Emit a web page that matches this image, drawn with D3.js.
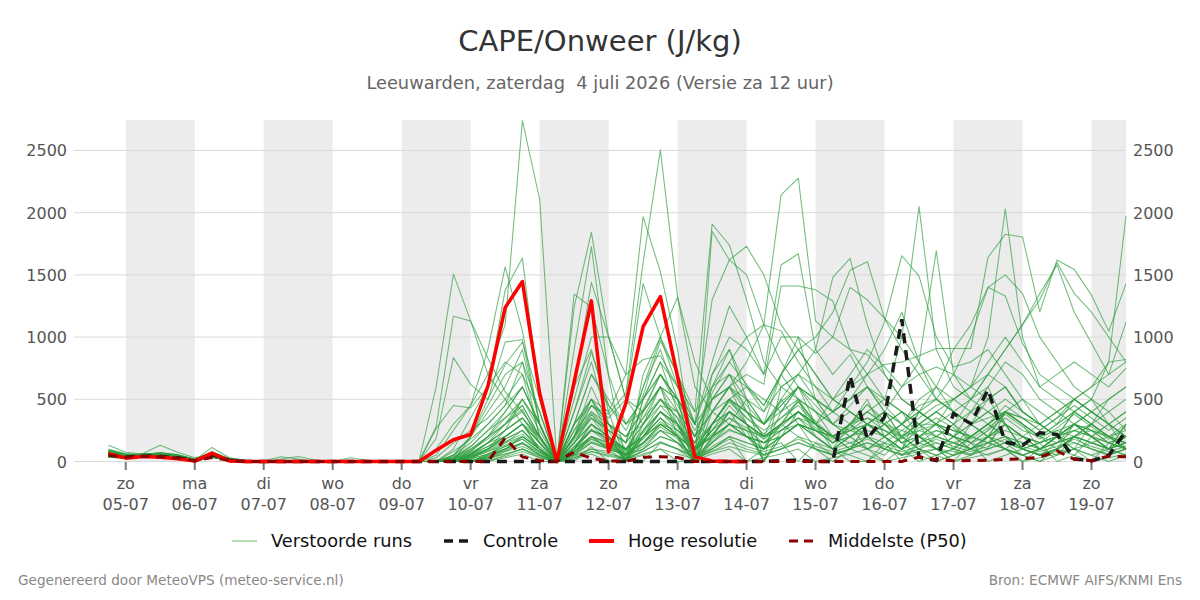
<!DOCTYPE html>
<html><head><meta charset="utf-8">
<script src="https://cdn.jsdelivr.net/npm/d3@7/dist/d3.min.js"></script>
<style>body{margin:0;background:#fff;font-family:"DejaVu Sans",sans-serif;}svg{display:block}</style>
</head><body><svg id="chart" width="1200" height="600"></svg>
<script>
// ---------- data ----------
const firstTimeUTC = [2026, 6, 4, 18]; // 04-07 18:00, 6-hourly steps
const stepHours = 6;
const dayNames = ["zo","ma","di","wo","do","vr","za","zo","ma","di","wo","do","vr","za","zo"];
const dayDates = ["05-07","06-07","07-07","08-07","09-07","10-07","11-07","12-07","13-07","14-07","15-07","16-07","17-07","18-07","19-07"];
const shadedDates = ["05-07","07-07","09-07","11-07","13-07","15-07","17-07","19-07"];
const yTickValues = [0, 500, 1000, 1500, 2000, 2500];

const hresValues = [62,27,40,35,22,3,67,5,0,0,0,0,0,0,0,0,0,0,
  0,90,175,217,606,1237,1447,549,0,640,1291,77,468,1084,1326,681,37,5,0,0];

const controlValues = [55,35,45,40,30,5,55,10,0,0,0,0,0,0,0,0,0,0,
  0,0,0,0,0,0,0,0,0,0,0,0,0,0,0,0,0,0,0,0,0,8,10,0,
  0,686,183,357,1143,35,8,384,304,578,156,129,231,218,22,5,48,248];

const p50Values = [50,35,42,38,28,6,32,8,0,0,0,0,0,0,0,0,0,0,
  0,0,0,0,0,188,37,8,0,75,25,5,0,35,38,32,0,0,0,0,0,0,0,0,
  0,0,0,0,0,36,15,6,8,10,17,22,34,86,17,6,44,38];

const ensembleMembers = [
 [70,45,55,60,45,10,60,15,0,0,5,10,0,0,0,0,0,0, 0,100,300,450,700,1100, 2740,2108,0,600,900,400, 0,500,800,400,100,600, 900,500,300,700,500,200, 100,300,500,200,100,400, 300,100,50,200,400,300, 100,50,200,150,100,300],
 [90,60,50,50,40,15,80,20,5,0,0,0,0,0,10,0,0,0, 0,600,1506,1130,700,500, 300,100,0,300,500,200, 0,400,600,200,0,300, 500,300,100,400,600,300, 200,100,50,0,100,200, 100,0,50,150,300,100, 50,100,300,200,100,150],
 [50,30,40,45,35,5,50,10,0,0,0,0,0,0,0,0,0,0, 0,280,1168,1130,830,560, 400,200,0,100,300,150, 50,200,400,300,0,200, 400,200,100,300,200,100, 0,100,300,400,200,100, 0,50,100,200,150,50, 0,100,200,100,50,100],
 [130,75,60,55,50,20,70,25,5,0,20,40,10,0,0,0,0,0, 0,50,250,450,900,1565, 1050,300,0,200,600,300, 100,300,500,350,0,500, 700,400,200,500,300,100, 50,100,200,100,50,150, 100,200,400,600,300,100, 50,150,300,250,150,200],
 [60,45,65,130,75,30,60,20,0,0,0,0,0,0,0,0,0,0, 0,0,100,350,600,1378, 1635,500,0,400,800,300, 150,600,900,500,200,400, 600,300,0,200,400,300, 100,200,300,200,50,100, 200,300,150,100,400,500, 300,200,100,300,400,250],
 [40,25,35,40,30,5,45,10,0,0,0,0,0,0,0,0,0,0, 0,0,50,200,400,600, 900,300,0,1345,1240,700, 300,500,700,500,0,300, 500,400,200,300,500,400, 200,300,100,50,200,300, 100,50,200,300,200,100, 50,100,50,200,300,100],
 [80,50,45,60,40,10,113,30,10,0,0,0,0,0,0,0,0,0, 0,30,150,250,350,500, 700,400,0,1240,1842,1000, 500,400,600,300,100,200, 400,300,0,200,300,200, 100,50,0,100,200,100, 50,100,200,150,100,50, 100,200,150,100,50,100],
 [65,40,50,55,35,8,55,12,0,0,10,0,0,0,0,0,0,0, 0,0,80,180,300,450, 800,200,0,900,1727,680, 0,700,1000,600,300,200, 300,200,50,100,200,150, 50,100,200,300,150,50, 0,50,100,200,100,50, 0,50,100,50,0,50],
 [100,65,55,70,55,20,65,25,8,5,38,20,0,0,0,0,0,0, 0,0,30,100,200,300, 400,200,0,300,500,400, 700,1968,1525,900,0,700, 900,600,400,700,1000,500, 300,200,100,200,300,200, 100,50,100,200,300,100, 50,100,200,300,200,100],
 [55,35,45,50,40,10,40,10,0,0,0,0,0,0,30,10,0,0, 0,0,20,80,200,400, 600,300,0,200,450,380, 550,1600,2505,1320,600,400, 300,500,0,600,500,300, 200,100,300,400,200,100, 50,100,300,200,100,0, 100,200,300,200,100,50],
 [75,50,40,45,30,8,70,15,0,0,0,0,0,0,0,0,0,0, 0,0,0,50,150,300, 500,300,0,200,400,300, 0,500,800,600,400,1909, 1740,1300,800,600,700,500, 300,400,300,200,100,200, 300,200,100,200,400,300, 200,100,200,300,200,100],
 [45,30,50,55,45,12,50,20,0,0,0,0,0,0,0,0,0,0, 0,0,40,120,250,350, 450,200,0,300,700,500, 300,400,600,500,0,1850, 1620,1500,1100,1050,800,600, 400,300,200,300,400,200, 100,200,300,200,100,50, 100,200,300,200,100,200],
 [85,55,60,65,50,15,55,18,0,0,0,0,0,0,0,0,0,0, 0,0,0,30,100,200, 300,150,0,100,300,200, 0,300,500,400,200,600, 800,1000,1100,2143,2277,1130, 1000,1400,1300,1150,900,700, 500,400,300,500,600,400, 300,200,400,500,300,200],
 [60,40,45,50,38,10,48,12,0,0,0,0,0,0,0,0,0,0, 0,0,10,60,150,250, 350,200,0,250,500,300, 200,400,700,500,300,800, 1250,1000,700,1580,1670,900, 700,860,600,400,300,500, 600,400,300,200,300,200, 100,200,300,200,100,200],
 [35,28,38,42,32,6,35,8,0,0,0,0,0,0,0,0,0,0, 0,0,0,20,100,250, 500,300,0,150,350,250, 0,250,450,300,0,400, 600,700,620,1410,1410,1380, 1290,900,700,500,400,300, 200,300,400,300,200,100, 50,100,200,300,200,100],
 [95,55,48,58,42,12,62,18,0,0,0,0,0,0,0,0,0,0, 0,0,0,0,50,150, 250,100,0,100,250,200, 100,200,350,200,0,300, 500,400,300,500,700,900, 1480,1633,1100,700,500,400, 300,200,300,400,300,200, 100,200,300,200,100,300],
 [50,38,52,62,48,14,58,16,0,0,0,0,0,0,0,0,0,0, 0,0,20,70,150,200, 300,200,0,200,380,250, 150,350,500,350,150,500, 700,600,450,700,900,1000, 1200,1538,1606,1150,1000,800, 600,500,400,500,600,400, 300,200,300,400,300,200],
 [72,48,56,68,52,18,66,22,0,0,0,0,0,0,0,0,0,0, 0,0,0,50,100,200, 300,100,0,150,300,200, 0,200,400,300,100,300, 500,600,500,400,600,500, 400,600,800,1120,1654,1490, 1000,760,800,900,700,500, 400,300,500,400,300,200],
 [42,32,44,48,36,8,42,10,0,0,0,0,0,0,0,0,0,0, 0,0,0,0,30,100, 200,100,0,50,200,150, 80,150,300,200,0,200, 400,300,200,300,400,300, 200,300,400,500,1000,2049, 900,600,500,700,600,400, 300,200,400,300,200,100],
 [88,52,58,72,56,16,72,20,0,0,0,0,0,0,0,0,0,0, 0,0,10,40,100,180, 250,100,0,100,200,100, 50,100,250,150,50,150, 300,250,150,200,300,200, 100,200,300,400,600,800, 1694,700,500,600,800,700, 500,400,300,200,300,400],
 [58,42,48,52,40,10,52,14,0,0,0,0,0,0,0,0,0,0, 0,0,0,30,80,150, 200,100,0,80,200,100, 0,150,300,200,100,200, 300,200,150,300,400,300, 500,600,700,780,800,850, 908,908,908,1641,1826,1805, 1203,1619,1544,1337,1047,1430],
 [68,46,54,64,46,12,64,18,0,0,0,0,0,0,0,0,0,0, 0,0,0,0,50,100, 150,50,0,50,150,100, 50,100,200,150,0,100, 200,150,100,200,300,200, 100,200,300,200,100,300, 400,500,600,1000,2030,1000, 600,500,400,300,500,600],
 [48,36,46,50,42,10,46,12,0,0,0,0,0,0,0,0,0,0, 0,0,20,60,120,200, 300,150,0,150,300,200, 100,250,400,300,150,300, 500,400,300,450,600,500, 400,500,600,400,300,400, 500,700,1000,1400,1500,1350, 1000,800,600,500,400,500],
 [78,50,60,66,50,14,68,20,0,0,0,0,0,0,0,0,0,0, 0,0,0,40,90,160, 220,100,0,100,250,150, 0,200,350,250,100,250, 400,300,200,300,400,300, 200,300,200,100,200,300, 400,300,500,700,900,1100, 1300,1600,1351,1200,1000,800],
 [38,26,36,40,30,6,38,8,0,0,0,0,0,0,0,0,0,0, 0,0,0,0,20,80, 150,80,0,80,180,120, 60,150,300,200,0,180, 300,200,100,200,300,250, 150,200,300,250,150,200, 300,250,200,300,400,300, 200,300,400,500,800,1973],
 [66,44,52,58,44,12,56,14,0,0,0,0,0,0,0,0,0,0, 0,0,0,20,60,100, 200,100,0,100,200,150, 100,200,300,200,100,200, 300,200,150,250,350,250, 150,200,250,200,100,150, 250,200,150,250,400,350, 250,350,500,600,700,1120],
 [82,54,50,56,44,14,74,22,0,0,0,0,0,0,0,0,0,0, 0,0,50,150,300,450, 600,300,0,400,880,450, 250,530,970,700,300,1300, 1620,1730,1500,1100,900,700, 500,400,300,200,300,200, 100,200,100,50,100,200, 300,200,100,50,100,200],
 [54,34,42,48,38,8,44,10,0,0,0,0,0,0,0,0,0,0, 0,0,0,80,200,350, 500,250,0,300,450,350, 500,1430,1000,700,400,600, 700,500,300,400,500,400, 300,200,100,150,250,200, 150,100,200,300,200,100, 150,250,200,150,100,150],
 [62,42,52,56,42,10,54,14,0,0,0,0,0,0,0,0,0,0, 0,0,20,90,180,300, 450,200,0,600,1440,1000, 500,300,450,400,0,300, 400,300,200,300,400,300, 200,150,100,200,300,200, 100,150,200,150,100,50, 100,150,200,150,100,50],
 [46,32,40,44,34,8,40,10,0,0,0,0,0,0,0,0,0,0, 0,0,0,0,40,100, 150,50,0,0,120,0, 40,0,150,100,0,120, 200,0,100,150,0,150, 100,0,0,150,100,0, 50,0,150,0,50,100, 150,0,50,0,150,100],
 [34,24,34,38,28,4,34,6,0,0,0,0,0,0,0,0,0,0, 0,0,0,0,0,50, 100,30,0,30,80,40, 20,60,100,60,20,80, 120,80,50,100,150,100, 50,100,150,100,50,80, 100,80,50,100,150,100, 50,80,100,150,200,250],
 [74,46,58,62,48,12,60,16,0,0,0,0,0,0,0,0,0,0, 0,0,0,200,500,960, 980,300,0,200,500,300, 200,300,500,300,100,300, 400,300,200,300,400,250, 150,250,300,200,100,200, 250,200,150,200,250,200, 150,200,250,200,150,200],
 [56,40,46,54,40,10,50,12,0,0,0,0,0,0,0,0,0,0, 0,185,835,620,500,780, 960,500,0,250,400,250, 150,350,600,400,200,400, 500,350,250,350,450,300, 200,300,350,250,150,250, 200,150,100,150,200,150, 100,150,200,250,150,100],
 [64,38,44,52,38,8,46,12,0,0,0,0,0,0,0,0,0,0, 0,266,450,430,600,800, 700,200,0,150,380,200, 0,250,400,250,100,250, 350,250,0,250,350,200, 100,150,200,150,0,150, 200,150,100,150,200,150, 100,150,200,150,100,150],
 [52,36,44,46,36,8,48,12,0,0,0,0,0,0,0,0,0,0, 0,0,30,120,250,400, 600,300,0,500,1000,1000, 700,820,850,600,300,500, 600,400,300,450,600,400, 300,250,200,300,400,300, 200,150,100,200,300,200, 150,200,250,200,150,100],
 [76,48,54,60,46,12,58,16,0,0,0,0,0,0,0,0,0,0, 0,0,0,60,150,250, 350,150,0,200,350,250, 150,600,1000,1320,800,500, 600,500,400,600,700,600, 500,400,300,200,300,400, 300,200,150,250,350,250, 200,150,250,300,200,150],
 [44,30,40,46,34,6,40,10,0,0,0,0,0,0,0,0,0,0, 0,0,0,40,100,180, 250,120,0,120,250,180, 100,200,300,250,150,400, 600,800,1100,800,600,500, 400,500,600,500,400,300, 300,400,500,400,300,200, 150,200,300,250,200,150],
 [58,40,50,54,42,10,52,14,0,0,0,0,0,0,0,0,0,0, 0,0,0,0,30,80, 120,60,0,60,150,100, 50,120,250,150,0,150, 250,200,150,250,350,300, 400,500,700,900,1200,800, 500,400,300,350,400,300, 200,300,400,300,200,300],
 [70,44,50,58,44,12,56,14,0,0,0,0,0,0,0,0,0,0, 0,0,0,20,60,120, 180,80,0,80,180,120, 60,150,250,200,100,200, 300,250,200,250,300,250, 200,250,300,250,200,250, 300,250,200,300,400,350, 300,400,500,600,800,820],
 [40,28,38,42,32,6,36,8,0,0,0,0,0,0,0,0,0,0, 0,0,0,0,20,60, 100,50,0,50,100,80, 0,100,200,150,50,100, 200,150,100,200,300,250, 200,300,400,300,200,400, 600,900,1100,1400,1330,950, 700,600,500,400,300,200],
 [84,52,56,64,50,14,64,18,0,0,0,0,0,0,0,0,0,0, 0,0,10,50,120,200, 300,150,0,100,250,200, 100,300,600,500,300,700, 1000,900,700,1000,1000,870, 1000,900,860,700,500,400, 300,250,200,300,400,300, 200,250,300,250,200,150],
 [50,34,46,50,38,8,44,12,0,0,0,0,0,0,0,0,0,0, 0,0,0,0,40,90, 140,70,0,70,160,110, 60,140,280,180,0,160, 260,200,150,200,300,250, 200,250,350,300,250,350, 450,500,600,700,900,1100, 1350,1580,1200,950,700,800],
 [36,26,34,38,28,4,32,6,0,0,0,0,0,0,0,0,0,0, 0,0,0,0,0,30, 60,0,0,20,60,0, 10,50,100,0,10,60, 100,0,30,60,100,0, 30,60,100,0,30,60, 100,0,30,60,100,0, 30,60,100,0,30,60],
 [68,42,50,56,42,10,52,14,0,0,0,0,0,0,0,0,0,0, 0,0,30,100,200,300, 420,150,0,180,350,180, 90,200,350,200,80,250, 450,300,180,300,480,300, 150,300,460,300,150,200, 300,500,600,500,300,200, 100,200,300,400,500,600],
 [54,38,48,52,40,10,50,12,0,0,0,0,0,0,0,0,0,0, 0,0,0,30,80,130, 200,100,0,120,260,170, 90,230,400,280,120,300, 480,350,220,350,480,320, 200,300,460,330,200,300, 400,300,200,300,450,350, 250,350,450,350,250,350],
 [42,30,38,44,32,6,38,8,0,0,0,0,0,0,0,0,0,0, 0,0,0,0,10,40, 80,30,0,30,80,50, 20,80,150,100,30,80, 150,100,60,100,150,100, 60,100,150,100,60,100, 150,100,60,100,150,100, 60,100,150,100,60,100],
 [80,50,54,62,48,14,62,18,0,0,0,0,0,0,0,0,0,0, 0,0,0,60,150,250, 350,180,0,200,450,300, 200,420,700,450,200,550, 800,620,450,700,900,700, 500,700,900,760,600,700, 760,700,600,800,1000,800, 600,700,800,700,600,750],
 [62,40,48,54,40,10,50,12,0,0,0,0,0,0,0,0,0,0, 0,0,0,0,60,120, 180,80,0,80,200,130, 70,180,320,220,90,220, 350,270,180,280,400,270, 180,270,400,300,180,270, 350,270,180,270,380,280, 180,270,380,280,180,280],
 [72,46,56,60,46,12,60,16,0,0,0,0,0,0,0,0,0,0, 0,0,50,200,450,700, 800,400,0,300,700,450, 300,500,700,500,250,500, 600,450,300,480,600,450, 300,450,600,450,300,450, 500,400,300,400,500,400, 300,400,500,400,300,400],
 [46,34,42,46,36,8,42,10,0,0,0,0,0,0,0,0,0,0, 0,0,0,10,30,60, 100,40,0,40,100,60, 30,80,160,100,40,100, 180,120,80,120,180,120, 80,120,180,120,80,120, 180,120,80,120,180,120, 80,120,180,120,80,120]
];

// ---------- chart ----------
const svg = d3.select("#chart");
const F = '"DejaVu Sans", sans-serif';
const toDate = i => new Date(Date.UTC(firstTimeUTC[0], firstTimeUTC[1], firstTimeUTC[2], firstTimeUTC[3] + i * stepHours));
const dateFromLabel = s => new Date(Date.UTC(2026, +s.slice(3,5) - 1, +s.slice(0,2)));

const x = d3.scaleUtc()
  .domain([new Date(Date.UTC(2026,6,4,6)), new Date(Date.UTC(2026,6,19,12))])
  .range([74, 1126]);
const y = d3.scaleLinear().domain([0, 2745]).range([461.5, 120]);
const plotL = 74, plotR = 1126, plotT = 120, plotB = 461.5;

// shaded days
svg.append("g").selectAll("rect").data(shadedDates).join("rect")
  .attr("x", d => x(dateFromLabel(d)))
  .attr("y", plotT)
  .attr("width", d => Math.min(x(d3.utcDay.offset(dateFromLabel(d), 1)), plotR) - x(dateFromLabel(d)))
  .attr("height", plotB - plotT)
  .attr("fill", "#ececec");

// grid
svg.append("g").selectAll("line").data(yTickValues).join("line")
  .attr("x1", plotL).attr("x2", plotR)
  .attr("y1", d => y(d)).attr("y2", d => y(d))
  .attr("stroke", "#d9d9d9").attr("stroke-width", 1);

// y labels both sides
const yl = svg.append("g").attr("font-family", F).attr("font-size", 16).attr("fill", "#555");
yl.selectAll("text.l").data(yTickValues).join("text").attr("class","l")
  .attr("x", 67).attr("y", d => y(d) + 6).attr("text-anchor", "end").text(d => d);
yl.selectAll("text.r").data(yTickValues).join("text").attr("class","r")
  .attr("x", 1133).attr("y", d => y(d) + 6).attr("text-anchor", "start").text(d => d);

// x ticks
const xt = svg.append("g").attr("font-family", F).attr("font-size", 16).attr("fill", "#555");
dayDates.forEach((dd, k) => {
  const px = x(dateFromLabel(dd));
  xt.append("line").attr("x1", px).attr("x2", px).attr("y1", 462).attr("y2", 470)
    .attr("stroke", "#777").attr("stroke-width", 2);
  xt.append("text").attr("x", px).attr("y", 489).attr("text-anchor", "middle").text(dayNames[k]);
  xt.append("text").attr("x", px).attr("y", 510).attr("text-anchor", "middle").text(dd);
});

const line = d3.line().x((d, i) => x(toDate(i))).y(d => y(d));

// members
svg.append("g").selectAll("path").data(ensembleMembers).join("path")
  .attr("d", line).attr("fill", "none")
  .attr("stroke", "#2e9e3e").attr("stroke-opacity", 0.68).attr("stroke-width", 1.05)
  .attr("stroke-linejoin", "round");

svg.append("path").attr("d", line(controlValues)).attr("fill", "none")
  .attr("stroke", "#1a1a1a").attr("stroke-width", 3.5).attr("stroke-dasharray", "10,7");
svg.append("path").attr("d", line(hresValues)).attr("fill", "none")
  .attr("stroke", "#ff0000").attr("stroke-width", 3.5).attr("stroke-linejoin", "round");
svg.append("path").attr("d", line(p50Values)).attr("fill", "none")
  .attr("stroke", "#8b0000").attr("stroke-width", 3).attr("stroke-dasharray", "9,7");

// titles
svg.append("text").attr("x", 600).attr("y", 51).attr("text-anchor", "middle")
  .attr("font-family", F).attr("font-size", 29).attr("fill", "#333").text("CAPE/Onweer (J/kg)");
svg.append("text").attr("x", 600).attr("y", 89).attr("text-anchor", "middle")
  .attr("font-family", F).attr("font-size", 17.8).attr("fill", "#666")
  .style("white-space", "pre").text("Leeuwarden, zaterdag  4 juli 2026 (Versie za 12 uur)");

// legend
const legendItems = [
  {label: "Verstoorde runs", x: 232, color: "#5cb85c", w: 1, dash: null, op: 0.9},
  {label: "Controle", x: 444, color: "#1a1a1a", w: 3.5, dash: "9,6", op: 1},
  {label: "Hoge resolutie", x: 589, color: "#ff0000", w: 4, dash: null, op: 1},
  {label: "Middelste (P50)", x: 789, color: "#8b0000", w: 3, dash: "9,6", op: 1}
];
const lg = svg.append("g");
legendItems.forEach(it => {
  lg.append("line").attr("x1", it.x).attr("x2", it.x + 25).attr("y1", 541).attr("y2", 541)
    .attr("stroke", it.color).attr("stroke-width", it.w).attr("stroke-opacity", it.op)
    .attr("stroke-dasharray", it.dash);
  lg.append("text").attr("x", it.x + 39).attr("y", 547).attr("font-family", F)
    .attr("font-size", 17.8).attr("fill", "#111").text(it.label);
});

// footer
svg.append("text").attr("x", 18).attr("y", 585).attr("font-family", F).attr("font-size", 13.6)
  .attr("fill", "#888").text("Gegenereerd door MeteoVPS (meteo-service.nl)");
svg.append("text").attr("x", 1182).attr("y", 585).attr("text-anchor", "end").attr("font-family", F)
  .attr("font-size", 13.6).attr("fill", "#888").text("Bron: ECMWF AIFS/KNMI Ens");
</script></body></html>
